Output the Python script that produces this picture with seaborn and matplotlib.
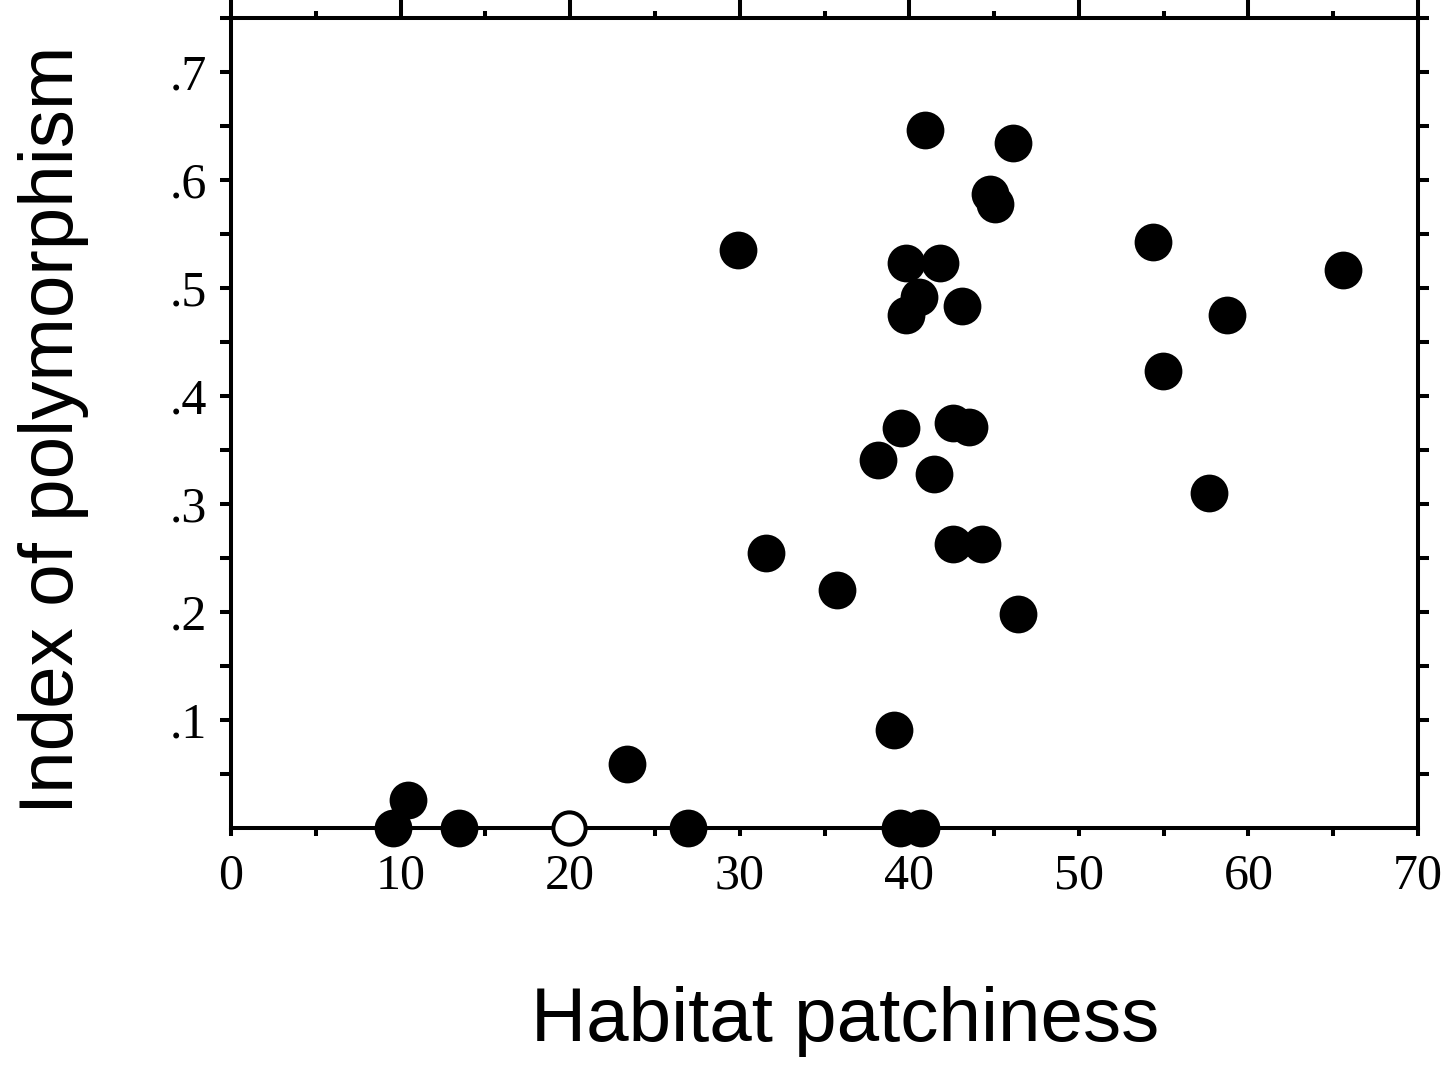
import numpy as np
import pandas as pd
import matplotlib
matplotlib.use("Agg")
import matplotlib.pyplot as plt
import seaborn as sns
from matplotlib.ticker import FixedLocator, FuncFormatter

# ---- data ----
patchiness = [9.55, 10.45, 13.45, 23.35, 26.95, 29.9, 31.55, 35.75, 38.15, 39.1,
              39.5, 39.45, 40.7, 39.8, 39.8, 40.55, 40.9, 41.45, 41.8, 42.55,
              42.55, 43.1, 43.55, 44.3, 44.75, 45.05, 46.1, 46.4, 54.35, 54.95,
              57.65, 58.75, 65.55]
polymorphism = [0.0, 0.026, 0.0, 0.059, 0.0, 0.535, 0.255, 0.220, 0.341, 0.091,
                0.370, 0.0, 0.0, 0.523, 0.475, 0.492, 0.646, 0.328, 0.523, 0.375,
                0.263, 0.483, 0.371, 0.263, 0.587, 0.578, 0.634, 0.198, 0.543, 0.423,
                0.310, 0.475, 0.517]
open_patchiness = [19.95]
open_polymorphism = [0.0]

x_ticks = [0, 10, 20, 30, 40, 50, 60, 70]
x_minor = [5, 15, 25, 35, 45, 55, 65]
y_ticks = [0.1, 0.2, 0.3, 0.4, 0.5, 0.6, 0.7]
y_minor = [0.05, 0.15, 0.25, 0.35, 0.45, 0.55, 0.65, 0.75]
x_label = "Habitat patchiness"
y_label = "Index of polymorphism"

filled = pd.DataFrame({"x": patchiness, "y": polymorphism})
hollow = pd.DataFrame({"x": open_patchiness, "y": open_polymorphism})

sns.set_style("white")
plt.rcParams["font.family"] = ["Liberation Serif", "DejaVu Serif"]
plt.rcParams["text.color"] = "black"
plt.rcParams["axes.labelcolor"] = "black"
plt.rcParams["xtick.color"] = "black"
plt.rcParams["ytick.color"] = "black"

fig = plt.figure(figsize=(14.51, 10.76), dpi=100)
ax = fig.add_axes([231 / 1451, 1 - 828 / 1076, (1418 - 231) / 1451, (828 - 18) / 1076])

sns.scatterplot(data=filled, x="x", y="y", ax=ax, color="black", s=740,
                linewidth=0, clip_on=False, zorder=3, legend=False)
sns.scatterplot(data=hollow, x="x", y="y", ax=ax, color="white", s=540,
                edgecolor="black", linewidth=2.9, clip_on=False, zorder=3, legend=False)

ax.set_xlim(0, 70)
ax.set_ylim(0, 0.75)

for sp in ax.spines.values():
    sp.set_linewidth(2.9)
    sp.set_color("black")
    sp.set_visible(True)

# x ticks (bottom short, top longer at majors)
ax.xaxis.set_major_locator(FixedLocator(x_ticks))
ax.xaxis.set_minor_locator(FixedLocator(x_minor))
ax.xaxis.set_major_formatter(FuncFormatter(lambda v, p: f"{int(v)}"))
ax.tick_params(axis="x", which="both", bottom=True, top=True, direction="out",
               length=6, width=2.9, color="black", labelsize=36, pad=12,
               labelcolor="black", labeltop=False)

# y ticks
ax.yaxis.set_major_locator(FixedLocator(y_ticks))
ax.yaxis.set_minor_locator(FixedLocator(y_minor))
ax.yaxis.set_major_formatter(FuncFormatter(lambda v, p: f"{v:.1f}".lstrip("0")))
ax.tick_params(axis="y", which="both", left=True, right=True, direction="out",
               length=8, width=2.9, color="black", labelsize=36, pad=9,
               labelcolor="black")

for t in ax.xaxis.get_major_ticks(len(x_ticks)):
    t.tick2line.set_markersize(13)
for t in ax.xaxis.get_minor_ticks(len(x_minor)):
    t.tick2line.set_markersize(5)

label_font = {"family": ["Liberation Sans", "DejaVu Sans"], "size": 55, "color": "black"}
ax.set_xlabel(x_label, fontdict=label_font)
ax.set_ylabel(y_label, fontdict=label_font)
ax.xaxis.set_label_coords(0.517, -0.195)
ax.yaxis.set_label_coords(-0.12, 0.491)

fig.savefig("out.png", dpi=100, facecolor="white")
